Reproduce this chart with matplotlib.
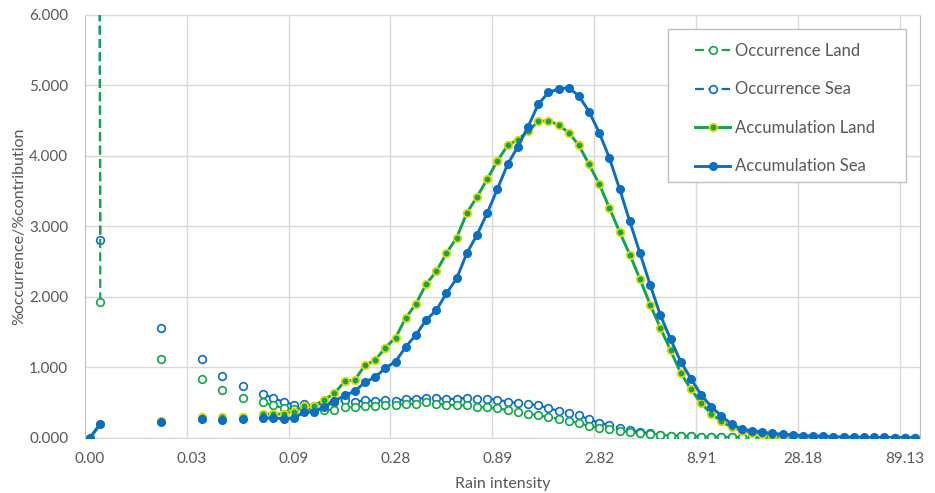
import numpy as np
import matplotlib
matplotlib.use("Agg")
import matplotlib.pyplot as plt
from matplotlib.patches import Rectangle

plt.rcParams['font.family'] = ['Lato', 'DejaVu Sans']

nan = np.nan

# 類別軸：82 個雨強區間，每 10 個標一次
tick_labels = ['0.00', '0.03', '0.09', '0.28', '0.89', '2.82', '8.91', '28.18', '89.13']

occ_land = [
    76.0, 1.92, nan, nan, nan, nan, nan, 1.12, nan, nan,
    nan, 0.84, nan, 0.68, nan, 0.57, nan, 0.50, 0.46, 0.42,
    0.41, 0.42, 0.40, 0.39, 0.40, 0.44, 0.43, 0.45, 0.45, 0.47,
    0.46, 0.48, 0.48, 0.50, 0.48, 0.47, 0.46, 0.46, 0.44, 0.43,
    0.42, 0.39, 0.36, 0.34, 0.32, 0.29, 0.27, 0.24, 0.21, 0.165,
    0.14, 0.12, 0.10, 0.08, 0.06, 0.05, 0.04, 0.03, 0.025, 0.02,
    0.015, 0.01, 0.01, 0.008, 0.006, 0.005, 0.004, 0.003, 0.002, 0.002,
    0.001, 0.001, 0, 0, 0, 0, 0, 0, 0, 0,
    0, 0,
]

occ_sea = [
    72.0, 2.80, nan, nan, nan, nan, nan, 1.56, nan, nan,
    nan, 1.12, nan, 0.88, nan, 0.74, nan, 0.62, 0.56, 0.51,
    0.47, 0.48, 0.45, 0.50, 0.51, 0.53, 0.51, 0.53, 0.52, 0.54,
    0.52, 0.55, 0.55, 0.57, 0.56, 0.55, 0.55, 0.57, 0.55, 0.55,
    0.54, 0.51, 0.49, 0.48, 0.46, 0.42, 0.38, 0.35, 0.32, 0.26,
    0.21, 0.18, 0.14, 0.11, 0.085, 0.06, 0.045, 0.03, 0.025, 0.02,
    0.015, 0.012, 0.01, 0.008, 0.006, 0.005, 0.004, 0.003, 0.002, 0.002,
    0.001, 0.001, 0, 0, 0, 0, 0, 0, 0, 0,
    0, 0,
]

acc_land = [
    0.00, 0.19, nan, nan, nan, nan, nan, 0.24, nan, nan,
    nan, 0.29, nan, 0.29, nan, 0.30, nan, 0.34, 0.33, 0.34,
    0.37, 0.45, 0.45, 0.54, 0.63, 0.80, 0.82, 1.03, 1.10, 1.28,
    1.42, 1.70, 1.90, 2.18, 2.36, 2.62, 2.84, 3.19, 3.42, 3.67,
    3.93, 4.15, 4.23, 4.35, 4.49, 4.50, 4.44, 4.33, 4.15, 3.88,
    3.60, 3.26, 2.92, 2.60, 2.25, 1.89, 1.56, 1.24, 0.92, 0.69,
    0.49, 0.34, 0.23, 0.15, 0.10, 0.07, 0.05, 0.03, 0.02, 0.015,
    0.01, 0.01, 0.005, 0.005, 0.003, 0.002, 0.001, 0.001, 0, 0,
    0, 0,
]

acc_sea = [
    0.00, 0.20, nan, nan, nan, nan, nan, 0.22, nan, nan,
    nan, 0.26, nan, 0.25, nan, 0.26, nan, 0.28, 0.28, 0.27,
    0.28, 0.36, 0.37, 0.44, 0.52, 0.60, 0.66, 0.79, 0.86, 0.99,
    1.08, 1.29, 1.46, 1.67, 1.81, 2.05, 2.26, 2.62, 2.88, 3.19,
    3.53, 3.88, 4.13, 4.41, 4.73, 4.90, 4.95, 4.97, 4.85, 4.63,
    4.33, 3.97, 3.53, 3.07, 2.62, 2.17, 1.74, 1.40, 1.08, 0.84,
    0.61, 0.44, 0.31, 0.19, 0.12, 0.10, 0.08, 0.06, 0.05, 0.04,
    0.03, 0.025, 0.02, 0.015, 0.01, 0.01, 0.005, 0.005, 0.003, 0.002,
    0.001, 0.001,
]

green = '#12A54A'
blue = '#0A6FC2'
yellow = '#E3DA0A'
grid_c = '#D9D9D9'
text_c = '#595959'

x = np.arange(len(acc_sea))

fig = plt.figure(figsize=(9.35, 4.93), dpi=100)
ax = fig.add_axes([85 / 935, 1 - 437.7 / 493, 835 / 935, 422.7 / 493])

# 發生率（虛線、空心點）
ax.plot(x, occ_land, color=green, lw=1.6, dashes=(4, 2), marker='o', ms=5.5,
        mfc='white', mec=green, mew=1.2, label='Occurrence Land', zorder=3)
ax.plot(x, occ_sea, color=blue, lw=1.6, dashes=(4, 2), marker='o', ms=5.5,
        mfc='white', mec=blue, mew=1.2, label='Occurrence Sea', zorder=2.9)
# 累積貢獻（實線、實心點）
ax.plot(x, acc_land, color=green, lw=2.1, marker='o', ms=5.5,
        mfc=green, mec=yellow, mew=1.3, label='Accumulation Land', zorder=3.1)
ax.plot(x, acc_sea, color=blue, lw=2.1, marker='o', ms=5.5,
        mfc=blue, mec=blue, mew=1.0, label='Accumulation Sea', zorder=3.2)

ax.set_xlim(-0.5, len(x) - 0.5)
ax.set_ylim(0, 6)

ax.set_yticks(np.arange(0, 7, 1))
ax.set_yticklabels([f'{v:.3f}' for v in range(7)])
ax.set_xticks(np.arange(0, 81, 10))
ax.set_xticklabels(tick_labels)
ax.set_xticks(np.arange(9.5, 80, 10), minor=True)

ax.grid(axis='y', which='major', color=grid_c, lw=1)
ax.grid(axis='x', which='minor', color=grid_c, lw=1)
ax.set_axisbelow(True)
ax.tick_params(axis='both', which='both', length=0, labelsize=11, labelcolor=text_c)
ax.tick_params(axis='y', pad=12)
ax.tick_params(axis='x', pad=10)

for s in ['top', 'bottom']:
    ax.spines[s].set_color(grid_c)
ax.spines['left'].set_color('#BFBFBF')
ax.spines['right'].set_color('#BFBFBF')

ax.set_ylabel('%occurrence/%contribution', fontsize=11.5, color=text_c, labelpad=2)
ax.set_xlabel('Rain intensity', fontsize=11.5, color=text_c, labelpad=8)

# 圖例外框自己畫
ax.add_patch(Rectangle((0.698, 0.605), 0.285, 0.362, transform=ax.transAxes,
                       facecolor='white', edgecolor='#BFBFBF', lw=1, zorder=5))
leg = ax.legend(loc='upper left', bbox_to_anchor=(0.731, 0.934), frameon=False,
                fontsize=12, labelspacing=1.35, handlelength=2.1,
                handletextpad=0.3, borderpad=0, borderaxespad=0)
leg.set_zorder(6)
for t in leg.get_texts():
    t.set_color(text_c)

fig.savefig('out.png', dpi=100)
